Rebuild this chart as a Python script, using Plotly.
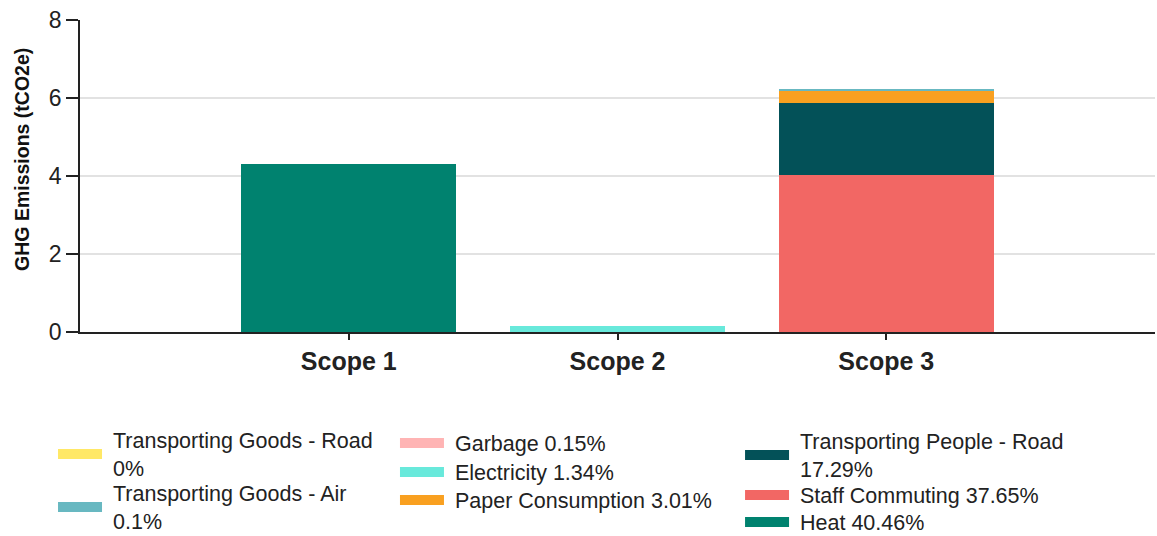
import plotly.graph_objects as go

# ---- data ----
scopes = ["Scope 1", "Scope 2", "Scope 3"]
series_names = [
    "Heat", "Electricity", "Staff Commuting", "Transporting People - Road",
    "Paper Consumption", "Garbage", "Transporting Goods - Air", "Transporting Goods - Road",
]
series_scope = ["Scope 1", "Scope 2", "Scope 3", "Scope 3", "Scope 3", "Scope 3", "Scope 3", "Scope 3"]
series_values = [4.32, 0.143, 4.02, 1.846, 0.321, 0.016, 0.0107, 0.0]
series_pct = ["40.46%", "1.34%", "37.65%", "17.29%", "3.01%", "0.15%", "0.1%", "0%"]
series_colors = ["#00826F", "#68E9DB", "#F26764", "#035158", "#F9A020", "#FFB4B4", "#68B8C1", "#FFE866"]
two_line = {"Transporting People - Road", "Transporting Goods - Air", "Transporting Goods - Road"}
y_title = "GHG Emissions (tCO2e)"

# legend placement (one legend box per entry, laid out in three columns)
legend_col_x = {"Heat": 2, "Electricity": 1, "Staff Commuting": 2, "Transporting People - Road": 2,
                "Paper Consumption": 1, "Garbage": 1, "Transporting Goods - Air": 0,
                "Transporting Goods - Road": 0}
legend_row_px = {"Heat": 522, "Electricity": 472, "Staff Commuting": 495,
                 "Transporting People - Road": 455, "Paper Consumption": 500, "Garbage": 443,
                 "Transporting Goods - Air": 507, "Transporting Goods - Road": 454}
col_paper_x = [-0.0251, 0.2930, 0.6140]

FONT = "Liberation Sans, Arial, sans-serif"
PLOT_TOP, PLOT_BOTTOM = 20, 332
NB = "\u00a0"

fig = go.Figure()
legends = {}
for i, (name, sc, v, pct, col) in enumerate(zip(series_names, series_scope, series_values,
                                                series_pct, series_colors)):
    label = f"{name}<br>{pct}" if name in two_line else f"{name} {pct}"
    legend_label = NB + label.replace("<br>", "<br>" + NB)
    lg_key = "legend" if i == 0 else f"legend{i + 1}"
    fig.add_trace(go.Bar(
        x=[sc], y=[v], name=label, marker=dict(color=col, line=dict(width=0)),
        width=0.8, showlegend=False,
    ))
    # legend swatch (wide colour block like the original key)
    fig.add_trace(go.Scatter(
        x=[None], y=[None], mode="lines", name=legend_label,
        line=dict(color=col, width=18), legend=lg_key, hoverinfo="skip",
    ))
    legends[lg_key] = dict(
        orientation="v", xanchor="left", yanchor="middle",
        x=col_paper_x[legend_col_x[name]],
        y=(PLOT_BOTTOM - legend_row_px[name]) / (PLOT_BOTTOM - PLOT_TOP),
        font=dict(family=FONT, size=21.5, color="#222"), bgcolor="rgba(0,0,0,0)",
        itemclick=False, itemdoubleclick=False, itemwidth=44,
    )

fig.update_layout(
    width=1157, height=536,
    margin=dict(l=80, r=2, t=PLOT_TOP, b=536 - PLOT_BOTTOM, autoexpand=False),
    barmode="stack",
    plot_bgcolor="white", paper_bgcolor="white",
    font=dict(family=FONT, color="#222"),
    showlegend=True,
    xaxis=dict(
        type="category", categoryorder="array", categoryarray=scopes,
        range=[-1, 3], showgrid=False, showline=True, linecolor="#222", linewidth=1.5,
        ticks="outside", ticklen=6, tickcolor="#222", tickwidth=1.5,
        tickfont=dict(family=FONT, size=25, color="#222", weight="bold"),
    ),
    yaxis=dict(
        range=[0, 8], dtick=2, showgrid=True, gridcolor="#E2E2E2", gridwidth=2,
        showline=True, linecolor="#222", linewidth=1.5, zeroline=False,
        ticks="outside", ticklen=12, tickcolor="#222", tickwidth=1.5,
        tickfont=dict(family=FONT, size=23, color="#222"),
    ),
    annotations=[dict(
        text=y_title, textangle=-90, xref="paper", yref="paper",
        x=-0.054, y=0.5545, xanchor="center", yanchor="middle", showarrow=False,
        font=dict(family=FONT, size=19.5, color="#111", weight="bold"),
    )],
    **legends,
)

fig.write_html(
    "out.html",
    config={"displayModeBar": False},
    post_script="document.body.style.margin='0';document.body.style.overflow='hidden';",
)
